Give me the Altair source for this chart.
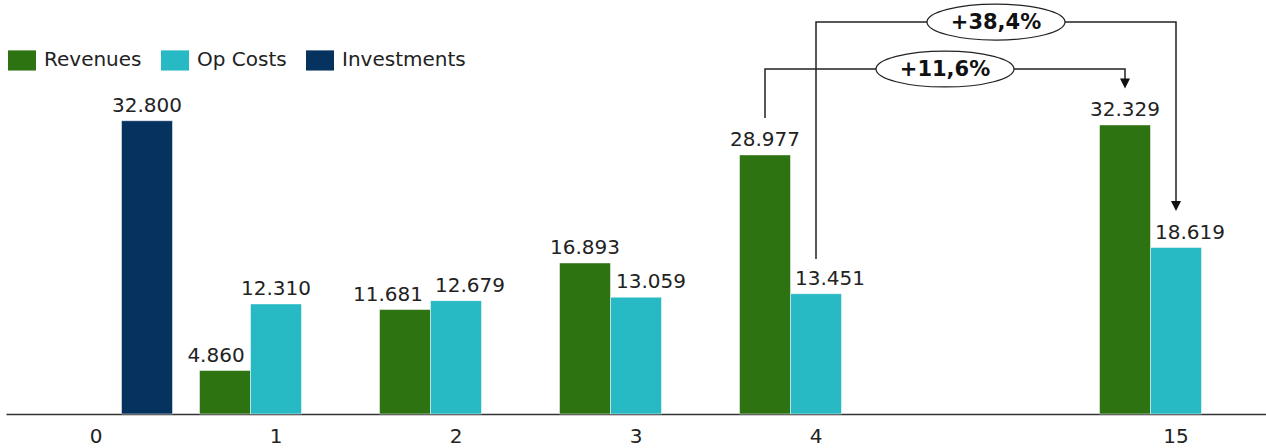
import altair as alt
import pandas as pd

# ---- data ----
groups = ["0", "1", "2", "3", "4", "15"]
x_domain = ["0", "1", "2", "3", "4", "gap", "15"]
series = ["Revenues", "Op Costs", "Investments"]
colors = ["#2d7311", "#27b9c4", "#06325f"]
revenues = [None, 4860, 11681, 16893, 28977, 32329]
op_costs = [None, 12310, 12679, 13059, 13451, 18619]
investments = [32800, None, None, None, None, None]

# manual horizontal nudges of the value labels seen in the reference (pixels)
label_nudge_revenues = [0, -9, -17, 0, 0, 0]
label_nudge_op_costs = [0, 0, 14, 15, 14, 14]
label_nudge_investments = [0, 0, 0, 0, 0, 0]

# growth annotations (brackets between year 4 and year 15)
growth_labels = ["+11,6%", "+38,4%"]
growth_series = ["Revenues", "Op Costs"]
growth_from = ["4", "4"]
growth_to = ["15", "15"]
bracket_start = [33100, 17330]   # level where bracket leaves the "from" bar
bracket_top = [38580, 43830]     # level of horizontal bracket line
bracket_end = [36960, 23260]     # level of the arrow head

# ---- tables ----
rows = []
for s, vals, nud in zip(series, [revenues, op_costs, investments],
                        [label_nudge_revenues, label_nudge_op_costs, label_nudge_investments]):
    for g, v, n in zip(groups, vals, nud):
        if v is not None:
            rows.append({"group": g, "series": s, "value": v, "nudge": n,
                         "label": f"{v:,}".replace(",", ".")})
bars_df = pd.DataFrame(rows)

line_rows, arrow_rows, badge_rows = [], [], []
for i, lab in enumerate(growth_labels):
    s = growth_series[i]
    pts = [(growth_from[i], bracket_start[i]), (growth_from[i], bracket_top[i]),
           (growth_to[i], bracket_top[i]), (growth_to[i], bracket_end[i])]
    for k, (g, v) in enumerate(pts):
        line_rows.append({"bracket": i, "step": k, "group": g, "series": s, "value": v})
    arrow_rows.append({"group": growth_to[i], "series": s, "value": bracket_end[i]})
    badge_rows.append({"group": "gap", "series": s, "value": bracket_top[i], "label": lab})
lines_df = pd.DataFrame(line_rows)
arrows_df = pd.DataFrame(arrow_rows)
badges_df = pd.DataFrame(badge_rows)

FONT = "DejaVu Sans"

x_enc = alt.X(
    "group:N",
    scale=alt.Scale(domain=x_domain, paddingInner=0.15, paddingOuter=0.075),
    axis=alt.Axis(title=None, labelExpr="datum.value == 'gap' ? '' : datum.value",
                  ticks=False, grid=False, labelAngle=0, labelFontSize=20,
                  labelFont=FONT, labelPadding=12, labelColor="#222",
                  domainColor="#333", domainWidth=1.5),
)
xo_enc = alt.XOffset("series:N", scale=alt.Scale(domain=series, paddingInner=0, paddingOuter=0))
y_enc = alt.Y("value:Q", scale=alt.Scale(domain=[0, 46300], nice=False), axis=None)

bars = alt.Chart(bars_df).mark_bar(stroke="white", strokeWidth=0.5).encode(
    x=x_enc, xOffset=xo_enc, y=y_enc,
    color=alt.Color(
        "series:N",
        scale=alt.Scale(domain=series, range=colors),
        legend=alt.Legend(
            title=None, orient="none", legendX=2, legendY=46, direction="horizontal",
            symbolType="M-1,-0.72L1,-0.72L1,0.72L-1,0.72Z", symbolSize=784,
            symbolStrokeWidth=0, symbolOpacity=1, labelFontSize=20, labelFont=FONT,
            labelColor="#222", labelOffset=8, columnPadding=19, padding=0,
        ),
    ),
)

text_layers = []
for n in sorted(bars_df["nudge"].unique()):
    text_layers.append(
        alt.Chart(bars_df).transform_filter(alt.datum.nudge == int(n)).mark_text(
            dy=-9, dx=int(n), baseline="alphabetic", fontSize=20, font=FONT, color="#222"
        ).encode(x=x_enc, xOffset=xo_enc, y=y_enc, text="label:N")
    )

lines = alt.Chart(lines_df).mark_line(color="#222", strokeWidth=1.5).encode(
    x=x_enc, xOffset=xo_enc, y=y_enc, detail="bracket:N", order="step:Q"
)

arrows = alt.Chart(arrows_df).mark_point(
    shape="M-1,-1L1,-1L0,1Z", size=100, filled=True, color="#111", opacity=1
).encode(x=x_enc, xOffset=xo_enc, y=y_enc)

badges = alt.Chart(badges_df).mark_point(
    shape="M-1,0A1,0.26,0,1,1,1,0A1,0.26,0,1,1,-1,0Z", size=19044,
    filled=True, fill="white", stroke="#222", strokeWidth=1.2, opacity=1,
).encode(x=x_enc, xOffset=xo_enc, y=y_enc)

badge_text = alt.Chart(badges_df).mark_text(
    fontSize=21, fontWeight="bold", font=FONT, baseline="middle", dy=1, color="#111"
).encode(x=x_enc, xOffset=xo_enc, y=y_enc, text="label:N")

chart = (
    alt.layer(bars, *text_layers, lines, arrows, badges, badge_text)
    .properties(width=1260, height=414,
                autosize=alt.AutoSizeParams(type="none"),
                padding={"left": 6, "top": 0, "right": 0, "bottom": 34})
    .configure(font=FONT)
    .configure_view(stroke=None)
)

chart.save("out.html", embed_options={"renderer": "svg", "actions": False})
